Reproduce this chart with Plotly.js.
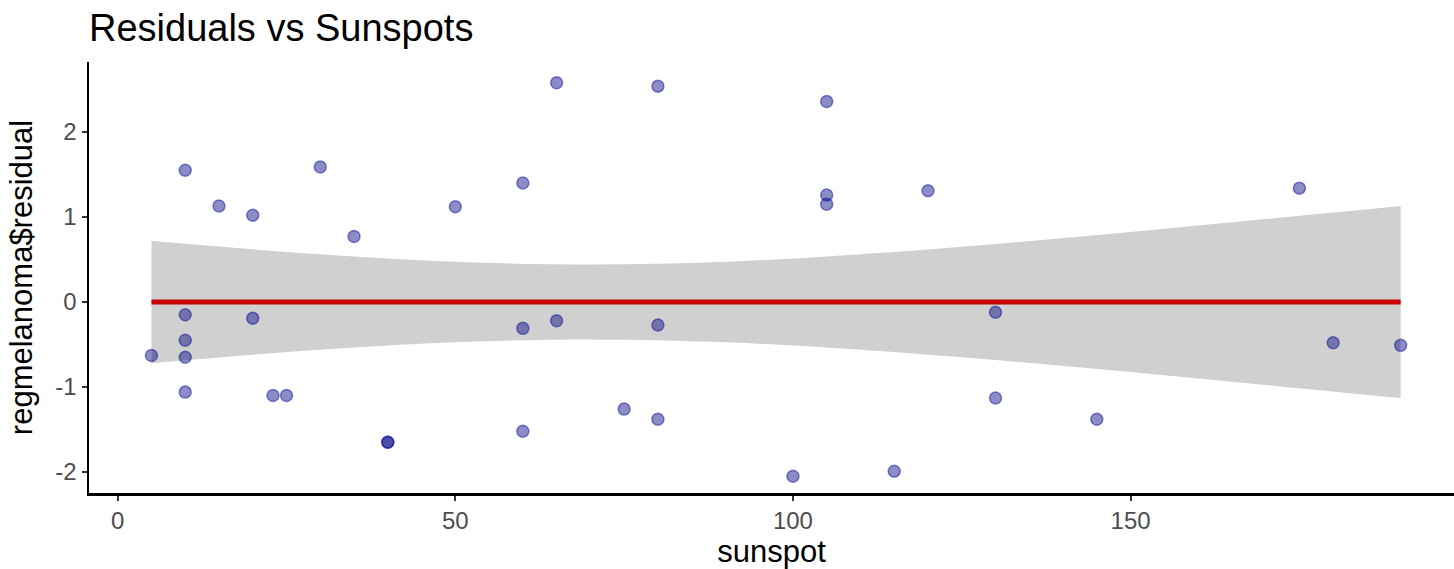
<!DOCTYPE html>
<html>
<head>
<meta charset="utf-8">
<script src="https://cdn.plot.ly/plotly-3.0.1.min.js"></script>
<style>html,body{margin:0;padding:0;background:#fff;}#chart{width:1454px;height:569px;}</style>
</head>
<body>
<div id="chart"></div>
<script>
// Observed points
const sunspot = [5,10,10,10,10,10,15,20,20,23,25,30,35,40,40,50,60,60,60,65,65,75,80,80,80,100,105,105,105,115,120,130,130,145,175,180,190];
const residual = [-0.63,1.55,-0.15,-0.45,-0.65,-1.06,1.13,1.02,-0.19,-1.10,-1.10,1.59,0.77,-1.65,-1.65,1.12,1.40,-0.31,-1.52,2.58,-0.22,-1.26,2.54,-0.27,-1.38,-2.05,2.36,1.26,1.15,-1.99,1.31,-0.12,-1.13,-1.38,1.34,-0.48,-0.51];

// Fitted line and confidence band
const bandX = [5,20,35,50,70,90,110,130,150,170,190];
const bandUpper = [0.72,0.62,0.535,0.473,0.44,0.473,0.561,0.683,0.824,0.976,1.13];
const bandLower = [-0.72,-0.62,-0.535,-0.473,-0.44,-0.473,-0.561,-0.683,-0.824,-0.976,-1.13];
const fitX = [5,190];
const fitY = [0,0];

const xTicks = [0,50,100,150];
const yTicks = [-2,-1,0,1,2];

const traces = [
  {x: bandX, y: bandLower, type: 'scatter', mode: 'lines', line: {width: 0, shape: 'spline', color: 'rgba(0,0,0,0)'}, hoverinfo: 'skip', showlegend: false},
  {x: bandX, y: bandUpper, type: 'scatter', mode: 'lines', fill: 'tonexty', fillcolor: 'rgb(208,208,208)', line: {width: 0, shape: 'spline', color: 'rgba(0,0,0,0)'}, hoverinfo: 'skip', showlegend: false},
  {x: fitX, y: fitY, type: 'scatter', mode: 'lines', line: {color: '#C80000', width: 5}, showlegend: false},
  {x: sunspot, y: residual, type: 'scatter', mode: 'markers',
   marker: {size: 12, color: 'rgba(0,0,128,0.45)', line: {color: 'rgba(0,0,150,0.45)', width: 1.5}}, showlegend: false}
];

const tickFont = {family: 'Liberation Sans, Arial, sans-serif', size: 24, color: '#4d4d4d'};
const titleFont = {family: 'Liberation Sans, Arial, sans-serif', size: 31, color: '#000'};

const layout = {
  width: 1454, height: 569,
  margin: {l: 89, r: 0, t: 62, b: 76},
  paper_bgcolor: '#fff', plot_bgcolor: '#fff',
  title: {text: 'Residuals vs Sunspots', x: 89/1454, xref: 'container', xanchor: 'left',
          y: 1 - 28/569, yref: 'container', yanchor: 'middle',
          font: {family: 'Liberation Sans, Arial, sans-serif', size: 38, color: '#000'}},
  xaxis: {range: [-4.25, 197.9], tickvals: xTicks, ticktext: xTicks.map(String),
          showgrid: false, zeroline: false, showline: true, linecolor: '#000', linewidth: 2.5,
          ticks: 'outside', ticklen: 5, tickwidth: 2, tickcolor: '#333',
          tickfont: tickFont, automargin: false,
          title: {text: 'sunspot', font: titleFont, standoff: 7}},
  yaxis: {range: [-2.247, 2.824], tickvals: yTicks, ticktext: yTicks.map(String),
          showgrid: false, zeroline: false, showline: true, linecolor: '#000', linewidth: 2.5,
          ticks: 'outside', ticklen: 5, tickwidth: 2, tickcolor: '#333',
          tickfont: tickFont, automargin: false,
          title: {text: 'regmelanoma$residual', font: titleFont, standoff: 14}},
  showlegend: false
};

Plotly.newPlot('chart', traces, layout, {displayModeBar: false, staticPlot: true});
</script>
</body>
</html>
